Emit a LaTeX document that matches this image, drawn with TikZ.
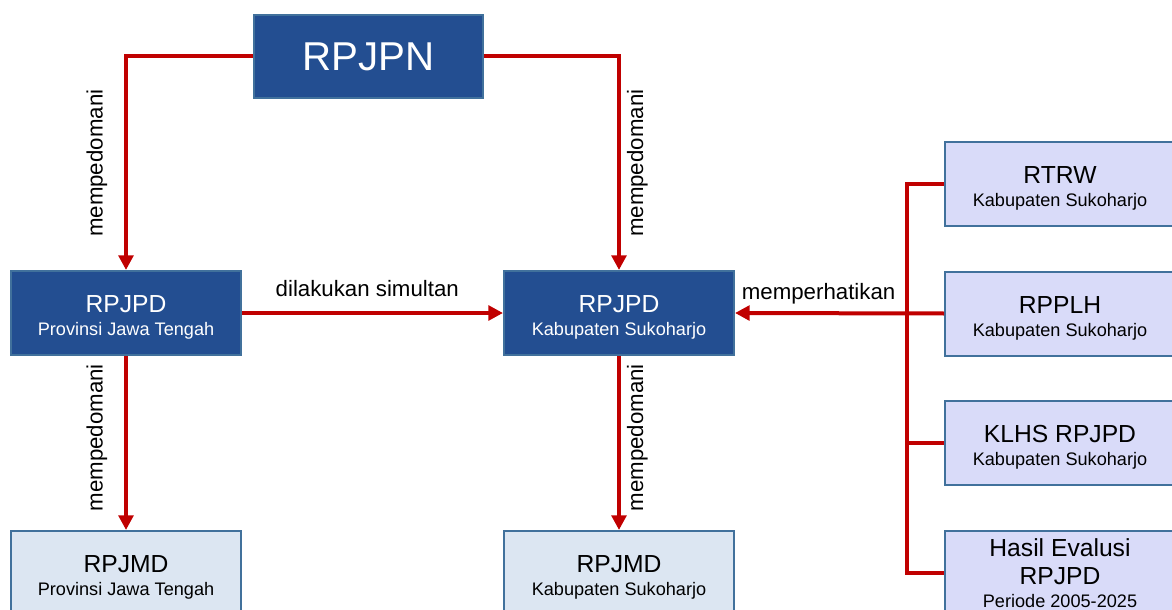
\documentclass[tikz,border=0pt]{standalone}
\usepackage{fontspec}
\setmainfont{Liberation Sans}
\usetikzlibrary{arrows.meta,positioning,calc}
\definecolor{navyfill}{HTML}{234E91}
\definecolor{boxedge}{HTML}{41719C}
\definecolor{palefill}{HTML}{DCE6F2}
\definecolor{lilacfill}{HTML}{D9DBF9}
\definecolor{linkred}{HTML}{C00000}
\newcommand{\titlefont}{\fontsize{18.5}{17.25}\selectfont}
\newcommand{\subfont}{\fontsize{13.6}{17.25}\selectfont}
\newcommand{\headroom}{\rule{0pt}{20pt}}

\begin{document}
\begin{tikzpicture}[
            x=0.75pt, y=-0.75pt,
            >={Triangle[length=11pt,width=11pt]},
            box/.style={
                draw=boxedge,
                rectangle,
                align=center,
                font=\subfont,
                minimum width=172.5pt,
                minimum height=63pt,
                inner sep=2pt,
                line width=1.5pt
            },
            darkbox/.style={box, fill=navyfill, text=white},
            palebox/.style={box, fill=palefill},
            sidebox/.style={box, fill=lilacfill},
            link/.style={
                draw=linkred,
                line width=3pt
            },
            arrow/.style={
                link,
                ->
            },
            siglabel/.style={
                font=\fontsize{16.7}{20}\selectfont,
                inner sep=0pt
            }
            ]

            \useasboundingbox (0,0) rectangle (1172,610);

            \node[darkbox, minimum width=171.75pt, minimum height=62.25pt] (rpjpn)
            at (368.5,56.5) {\fontsize{30.2}{30}\selectfont RPJPN};

            \node[darkbox] (provlong) at (126,313)
            {\titlefont\headroom RPJPD\\
                Provinsi Jawa Tengah};

            \node[darkbox] (kablong) at (619,313)
            {\titlefont\headroom RPJPD\\
                Kabupaten Sukoharjo};

            \node[palebox] (provmid) at (126,573)
            {\titlefont\headroom RPJMD\\
                Provinsi Jawa Tengah};

            \node[palebox] (kabmid) at (619,573)
            {\titlefont\headroom RPJMD\\
                Kabupaten Sukoharjo};

            \node[sidebox] (rtrw) at (1060,184)
            {\titlefont\headroom RTRW\\
                Kabupaten Sukoharjo};

            \node[sidebox] (rpplh) at (1060,313.5)
            {\titlefont\headroom RPPLH\\
                Kabupaten Sukoharjo};

            \node[sidebox] (klhs) at (1060,443)
            {\titlefont\headroom KLHS RPJPD\\
                Kabupaten Sukoharjo};

            \node[sidebox] (hasil) at (1060,573)
            {\titlefont Hasil Evalusi\\[3.75pt]
                \titlefont RPJPD\\
                Periode 2005-2025};

            % RPJPN down to both RPJPD
            \draw[arrow]
            (rpjpn.west) -|
            node[siglabel, pos=0.75, rotate=90, anchor=south, inner ysep=12.5pt] {mempedomani}
            (provlong.north);

            \draw[arrow]
            (rpjpn.east) -|
            node[siglabel, pos=0.75, rotate=90, anchor=north, inner ysep=4.5pt] {mempedomani}
            (kablong.north);

            % RPJPD down to RPJMD
            \draw[arrow]
            (provlong.south) --
            node[siglabel, pos=0.47, rotate=90, anchor=south, inner ysep=12.5pt] {mempedomani}
            (provmid.north);

            \draw[arrow]
            (kablong.south) --
            node[siglabel, pos=0.47, rotate=90, anchor=north, inner ysep=4.5pt] {mempedomani}
            (kabmid.north);

            \draw[arrow]
            (provlong.east) --
            node[siglabel, pos=0.48, anchor=south, inner ysep=10.5pt] {dilakukan simultan}
            (kablong.west);

            % side documents
            \coordinate (bus) at ($(rtrw.west)+(-37,0)$);

            \draw[link] (rtrw.west) -- (bus) |- (hasil.west);
            \draw[link] (klhs.west) -- (klhs.west -| bus);

            \draw[arrow]
            (rpplh.west) --
            node[siglabel, pos=0.6, anchor=south, inner ysep=5pt] {memperhatikan}
            (kablong.east);

        \end{tikzpicture}
\end{document}
